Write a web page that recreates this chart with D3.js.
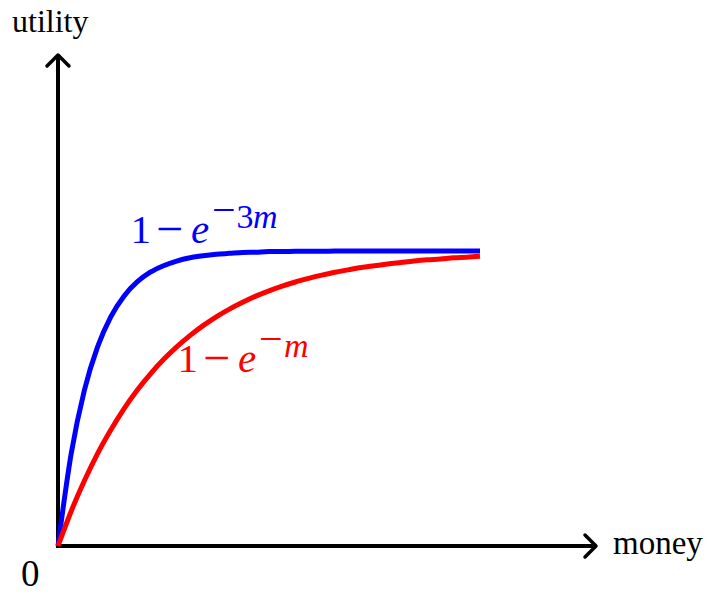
<!DOCTYPE html>
<html>
<head>
<meta charset="utf-8">
<script src="https://cdn.jsdelivr.net/npm/d3@7/dist/d3.min.js"></script>
<style>
  html, body { margin: 0; padding: 0; background: #fff; }
  svg { display: block; }
  text { font-family: "Liberation Serif", "Times New Roman", serif; }
</style>
</head>
<body>
<svg id="chart" width="708" height="594"></svg>
<script>
// Money values at which both utility curves are sampled
const money = [0, 0.125, 0.25, 0.375, 0.5, 0.625, 0.75, 0.875, 1,
  1.125, 1.25, 1.375, 1.5, 1.625, 1.75, 1.875, 2,
  2.125, 2.25, 2.375, 2.5, 2.625, 2.75, 2.875, 3,
  3.125, 3.25, 3.375, 3.5, 3.625, 3.75, 3.875, 4];

// Utility 1 - e^{-m}
const utilitySlow = [0, 0.118, 0.221, 0.313, 0.393, 0.465, 0.528, 0.583, 0.632,
  0.675, 0.713, 0.747, 0.777, 0.803, 0.826, 0.847, 0.865,
  0.881, 0.895, 0.907, 0.918, 0.928, 0.936, 0.944, 0.950,
  0.956, 0.961, 0.966, 0.970, 0.973, 0.977, 0.979, 0.982];

// Utility 1 - e^{-3m}
const utilityFast = [0, 0.313, 0.528, 0.675, 0.777, 0.847, 0.895, 0.928, 0.950,
  0.966, 0.977, 0.984, 0.989, 0.992, 0.995, 0.996, 0.998,
  0.998, 0.999, 0.999, 0.999, 1.000, 1.000, 1.000, 1.000,
  1.000, 1.000, 1.000, 1.000, 1.000, 1.000, 1.000, 1.000];

const axisLabels = { x: "money", y: "utility", origin: "0" };

const svg = d3.select("#chart");

const x = d3.scaleLinear().domain([0, 4]).range([58, 480]);
const y = d3.scaleLinear().domain([0, 1]).range([546, 251]);

// Axis extents (beyond the plotted data)
const xAxisEnd = 596, yAxisTop = 55;

const axes = svg.append("g").attr("stroke", "#000").attr("fill", "none")
  .attr("stroke-width", 4);

axes.append("line")
  .attr("x1", x(0) - 2).attr("y1", y(0))
  .attr("x2", xAxisEnd - 2).attr("y2", y(0));
axes.append("line")
  .attr("x1", x(0)).attr("y1", y(0) + 2)
  .attr("x2", x(0)).attr("y2", yAxisTop + 2);

// Curved arrow tips
const tip = "M-11,-11 Q-3,-3 0,0 Q-3,3 -11,11";
axes.append("path")
  .attr("d", tip)
  .attr("stroke-width", 3.5)
  .attr("stroke-linecap", "round").attr("stroke-linejoin", "round")
  .attr("transform", `translate(${xAxisEnd},${y(0)})`);
axes.append("path")
  .attr("d", tip)
  .attr("stroke-width", 3.5)
  .attr("stroke-linecap", "round").attr("stroke-linejoin", "round")
  .attr("transform", `translate(${x(0)},${yAxisTop}) rotate(-90)`);

// Curves
const line = d3.line()
  .x((d, i) => x(money[i]))
  .y(d => y(d))
  .curve(d3.curveMonotoneX);

svg.append("path")
  .attr("d", line(utilityFast))
  .attr("fill", "none").attr("stroke", "#0000ff").attr("stroke-width", 5);

svg.append("path")
  .attr("d", line(utilitySlow))
  .attr("fill", "none").attr("stroke", "#ff0000").attr("stroke-width", 5);

// Axis labels
svg.append("text").attr("x", 12).attr("y", 32)
  .attr("font-size", 32).text(axisLabels.y);
svg.append("text").attr("x", 613).attr("y", 554)
  .attr("font-size", 33).text(axisLabels.x);
svg.append("text").attr("x", 21).attr("y", 586)
  .attr("font-size", 37).text(axisLabels.origin);

// Formula labels "1 − e^{−k m}", typeset piece by piece
function formula(x0, base, color, coef) {
  const g = svg.append("g").attr("fill", color);
  const piece = (txt, px, py, size, italic) =>
    g.append("text").attr("x", px).attr("y", py)
      .attr("font-size", size)
      .attr("font-style", italic ? "italic" : "normal")
      .text(txt);
  piece("1", x0 - 4.5, base, 41, false);
  piece("\u2212", x0 + 21, base + 2, 48, false);
  piece("e", x0 + 56, base, 41, true);
  piece("\u2212", x0 + 77, base - 19, 42, false);
  let sx = x0 + 100;
  if (coef) {
    piece(coef, sx + 1.5, base - 15, 34, false);
    sx += 16;
  }
  piece("m", sx + 2, base - 15, 34, true);
}
formula(135, 243, "#0000ff", "3");
formula(182, 372, "#ff0000", "");
</script>
</body>
</html>
